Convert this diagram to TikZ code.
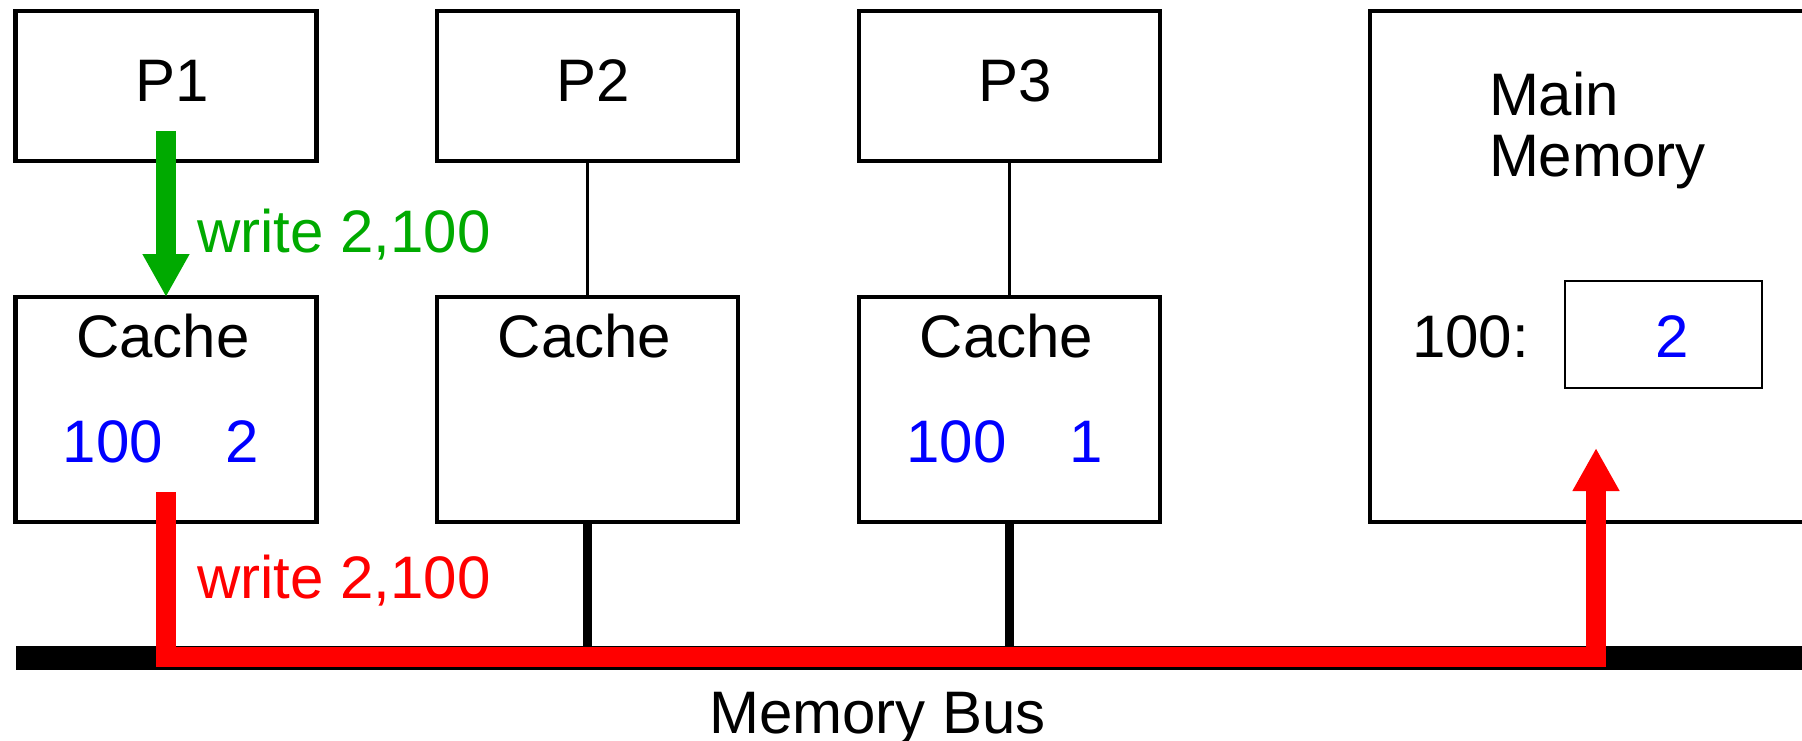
\documentclass[tikz,border=0pt]{standalone}
\usepackage{fontspec}
\setmainfont{Liberation Sans}
\usetikzlibrary{arrows.meta,calc}
\definecolor{wgreen}{RGB}{0,170,0}
\definecolor{wred}{RGB}{255,0,0}
\definecolor{wblue}{RGB}{0,0,255}

\begin{document}
\begin{tikzpicture}[x=1pt,y=-1pt,
  box/.style={draw,line width=4.5pt,minimum width=301pt,inner sep=0pt,outer sep=0pt},
  cpu/.style={box,minimum height=150pt},
  cachebox/.style={box,minimum height=225pt},
  lbl/.style={font=\fontsize{60}{72}\selectfont,inner sep=0pt,outer sep=0pt,anchor=base},
  val/.style={lbl,text=wblue},
  flow/.style={line width=20pt,line join=miter},
  bigtip/.style={-{Triangle[length=43pt,width=44pt]}},
  link/.style={line width=3pt},
  buslink/.style={line width=9pt}
]
\useasboundingbox (0,0) rectangle (1802,741);
\clip (0,0) rectangle (1802,741);

% processors
\node[cpu] (p1) at (166,86) {};
\node[cpu] (p2) at (587.5,86) {};
\node[cpu] (p3) at (1009.5,86) {};
\node[lbl] (p1l) at (172,102) {P1};
\node[lbl] (p2l) at (593.5,102) {P2};
\node[lbl] (p3l) at (1015.5,102) {P3};

% caches
\node[cachebox] (c1) at (166,409.5) {};
\node[cachebox] (c2) at (587.5,409.5) {};
\node[cachebox] (c3) at (1009.5,409.5) {};
\node[lbl] (c1l) at (163,357) {Cache};
\node[lbl] (c2l) at (584.5,357) {Cache};
\node[lbl] (c3l) at (1006.5,357) {Cache};
\node[val] (c1a) at (113,462) {100};
\node[val] (c1d) at (242.5,462) {2};
\node[val] (c3a) at (956.5,462) {100};
\node[val] (c3d) at (1086,462) {1};

% main memory
\node[box,minimum width=470pt,minimum height=511pt] (mem) at (1605,266.5) {};
\node[lbl,anchor=base west] (mem1) at (1489,116) {Main};
\node[lbl,anchor=base west] (mem2) at (1489,176) {Memory};
\node[lbl,anchor=base west] (addr) at (1412,357) {100:};
\node[draw,line width=2pt,minimum width=197pt,minimum height=107pt,inner sep=0pt] (cell) at (1663.5,334.5) {};
\node[val] (cellv) at (1672,357) {2};

% memory bus
\coordinate (busL) at (16,658);
\coordinate (busR) at (1830,658);
\draw[line width=24pt] (busL) -- (busR);
\node[lbl] (busl) at (877.5,733) {Memory Bus};

% processor-cache and cache-bus links
\draw[link] (p2.south) -- (c2.north);
\draw[link] (p3.south) -- (c3.north);
\draw[buslink] (c2.south) -- (c2.south |- busL);
\draw[buslink] (c3.south) -- (c3.south |- busL);

% write from P1 into its cache
\draw[flow,bigtip,wgreen] ($(p1.south)+(0,-30)$) -- (c1.north);
\node[lbl,anchor=base west,text=wgreen] (wg) at (197,252) {write 2,100};

% write-through over the bus into memory
\coordinate (mtip) at (1596,448);
\draw[flow,bigtip,wred] ($(c1.south)+(0,-30)$) -- ($(c1.south)+(0,135)$) -| (mtip);
\node[lbl,anchor=base west,text=wred] (wr) at (197,598) {write 2,100};
\end{tikzpicture}
\end{document}
